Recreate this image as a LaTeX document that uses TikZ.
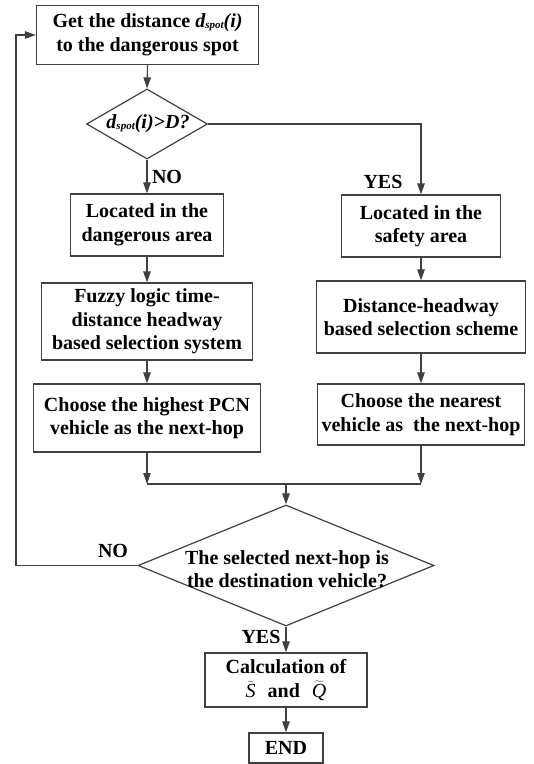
\documentclass[tikz,border=0pt]{standalone}
\usepackage{fontspec}
\setmainfont{Liberation Serif}
\usetikzlibrary{shapes.geometric,arrows.meta}
\newcommand{\spotsub}{\raisebox{-1pt}{\fontsize{11}{11}\selectfont spot}}
\newcommand{\dsp}{\textit{d\spotsub(i)}}
\newcommand{\tl}[1]{$\widetilde{\mbox{\normalfont\itshape #1}}$}
\begin{document}
\begin{tikzpicture}[x=1pt,y=-1pt,
  every node/.style={font=\fontsize{20}{23.5}\selectfont\bfseries},
  box/.style={draw=black!75, line width=1.2pt, align=center, inner sep=0pt},
  dia/.style={draw=black!75, line width=1.2pt, diamond, inner sep=0pt},
  txt/.style={align=center, inner sep=0pt},
  arr/.style={draw=black!75, line width=1.1pt, -{Triangle[length=11pt,width=7.5pt]}},
  ln/.style={draw=black!75, line width=1.1pt}]
\useasboundingbox (0,0) rectangle (534,764);
% nodes
\node[box, minimum width=222pt, minimum height=59pt] (top) at (147.5,35) {Get the distance \dsp\\to the dangerous spot};
\node[dia, minimum width=121pt, minimum height=70pt] (d1) at (147,124) {};
\node[txt] (d1t) at (148,124) {\textit{d\spotsub(i)>D?}};
\node[box, minimum width=153pt, minimum height=62pt] (L1) at (147,225) {Located in the\\dangerous area};
\node[box, minimum width=211pt, minimum height=77pt] (L2) at (147,321.5) {Fuzzy logic time-\\distance headway\\based selection system};
\node[box, minimum width=227pt, minimum height=68pt] (L3) at (147,418) {Choose the highest PCN\\vehicle as the next-hop};
\node[box, minimum width=159pt, minimum height=62pt] (R1) at (421,226) {Located in the\\safety area};
\node[box, minimum width=209pt, minimum height=72pt] (R2) at (421,317) {Distance-headway\\based selection scheme};
\node[box, minimum width=207pt, minimum height=61pt] (R3) at (421,414.5) {Choose the nearest\\vehicle as\ \ the next-hop};
\node[dia, minimum width=296pt, minimum height=121pt] (d2) at (286,565.5) {};
\node[txt] (d2t) at (287,569) {The selected next-hop is\\the destination vehicle?};
\node[box, minimum width=162pt, minimum height=54pt] (calc) at (286,680) {Calculation of\\\tl{S}\hspace{7pt} and \hspace{7pt}\tl{Q}};
\node[box, minimum width=74pt, minimum height=30pt] (end) at (286,748) {END};
% labels
\node[txt] (no1) at (167,177) {NO};
\node[txt] (yes1) at (383,182) {YES};
\node[txt] (no2) at (113,551) {NO};
\node[txt] (yes2) at (261,637) {YES};
% helper coordinates
\coordinate (j) at (0,484);
\coordinate (fb) at (16,0);
% connectors
\draw[arr] (top.south) -- (d1.north);
\draw[arr] (d1.south) -- (L1.north);
\draw[arr] (d1.east) -| (R1.north);
\draw[arr] (L1.south) -- (L2.north);
\draw[arr] (L2.south) -- (L3.north);
\draw[arr] (R1.south) -- (R2.north);
\draw[arr] (R2.south) -- (R3.north);
\draw[arr] (L3.south) -- (L3.south |- j);
\draw[arr] (R3.south) -- (R3.south |- j);
\draw[ln] (L3.south |- j) -- (R3.south |- j);
\draw[arr] (d2.north |- j) -- (d2.north);
\draw[arr] (d2.south) -- (calc.north);
\draw[arr] (calc.south) -- (end.north);
\draw[arr] (d2.west) -- (d2.west -| fb) |- (top.west);
\end{tikzpicture}
\end{document}
